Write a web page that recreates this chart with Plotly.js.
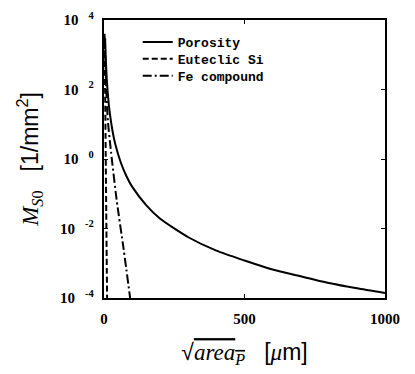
<!DOCTYPE html>
<html>
<head>
<meta charset="utf-8">
<script src="https://cdn.plot.ly/plotly-3.0.1.min.js"></script>
<style>html,body{margin:0;padding:0;background:#fff;}#chart{width:415px;height:374px;}</style>
</head>
<body>
<div id="chart"></div>
<script>
// Porosity (solid)
const porosityX = [4, 6, 10, 15, 20, 30, 40, 60, 80, 100, 150, 200, 300, 400, 500, 600, 700, 800, 900, 1000];
const porosityY = [3000, 900, 190, 55, 23, 6.6, 2.7, 0.78, 0.32, 0.16, 0.047, 0.019, 0.0056, 0.0023, 0.0012, 0.00066, 0.00042, 0.00027, 0.00019, 0.00014];
// Euteclic Si (dashed)
const siX = [2, 4, 6, 8, 10, 11];
const siY = [4000, 100, 1.6, 0.03, 0.0006, 0.0001];
// Fe compound (dash-dot)
const feX = [3, 8, 14, 25, 45, 70, 93];
const feY = [3000, 100, 12, 1.6, 0.066, 0.0025, 0.0001];
const legendNames = ["Porosity", "Euteclic Si", "Fe compound"];
const yTickVals = [1e-4, 1e-2, 1, 1e2, 1e4];
const yExponents = ["-4", "-2", "0", "2", "4"];
const xTickVals = [0, 500, 1000];
const xTickText = ["0", "500", "1000"];

const NB = "\u00a0";
const yTickText = yExponents.map(e => "10" + NB + NB + "<sup>" + NB + e + NB + NB + "</sup>");

const lineStyle = (dash) => ({color: "#000", width: 2, dash: dash, shape: "spline", smoothing: 0.6});

const traces = [
  {x: porosityX, y: porosityY, name: legendNames[0], mode: "lines", line: lineStyle("solid"), legend: "legend"},
  {x: siX, y: siY, name: legendNames[1], mode: "lines", line: lineStyle("6px,3px"), legend: "legend2"},
  {x: feX, y: feY, name: legendNames[2], mode: "lines", line: lineStyle("9px,3px,2px,3px"), legend: "legend3"}
];

const tickFont = {family: "Liberation Serif", size: 15, color: "#000", weight: 700};
const legendFont = {family: "Liberation Mono", size: 13, color: "#000", weight: 700};
const mkLegend = (y) => ({
  x: 0.12, y: y, xanchor: "left", yanchor: "middle",
  bgcolor: "rgba(0,0,0,0)", borderwidth: 0, font: legendFont, itemwidth: 30
});

const layout = {
  width: 415, height: 374,
  margin: {l: 104, r: 30, t: 20, b: 76},
  paper_bgcolor: "#fff", plot_bgcolor: "#fff",
  showlegend: true,
  legend: mkLegend(0.921),
  legend2: mkLegend(0.860),
  legend3: mkLegend(0.799),
  xaxis: {
    range: [0, 1000], tickvals: xTickVals, ticktext: xTickText,
    showgrid: false, zeroline: false, showline: true, linecolor: "#000", linewidth: 2,
    mirror: "ticks", ticks: "inside", ticklen: 4, tickcolor: "#000",
    tickfont: tickFont, ticklabelstandoff: 6,
    title: {text: "√<span style=\"text-decoration:overline;font-family:'Liberation Serif'\"><i>area</i><sub><i>P</i></sub></span>   [<span style=\"font-family:'Liberation Serif'\"><i>μ</i></span>m]",
            font: {family: "Liberation Sans", size: 23, color: "#000"}, standoff: 18}
  },
  yaxis: {
    type: "log", range: [-4, 4], tickvals: yTickVals, ticktext: yTickText,
    showgrid: false, zeroline: false, showline: true, linecolor: "#000", linewidth: 2,
    mirror: "ticks", ticks: "inside", ticklen: 4, tickcolor: "#000",
    tickfont: tickFont, ticklabelstandoff: 0,
    title: {text: "<span style=\"font-family:'Liberation Serif'\"><i>M</i><sub><i>S</i>0</sub></span>   [1/mm<sup>2</sup>]",
            font: {family: "Liberation Sans", size: 23, color: "#000"}, standoff: 15}
  }
};

Plotly.newPlot("chart", traces, layout, {staticPlot: true, displayModeBar: false});
</script>
</body>
</html>
